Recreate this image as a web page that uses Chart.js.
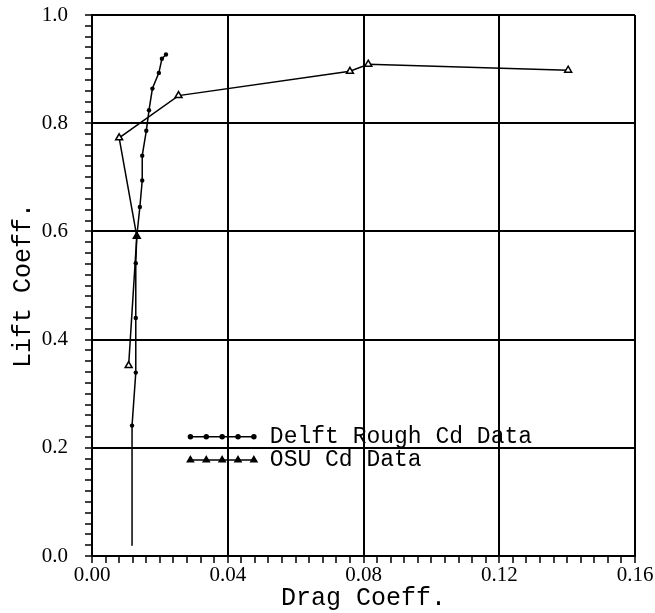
<!DOCTYPE html>
<html>
<head>
<meta charset="utf-8">
<script src="https://cdn.jsdelivr.net/npm/chart.js@4"></script>
<style>
  body { margin: 0; background: #fff; }
</style>
</head>
<body>
<canvas id="polar" width="655" height="613"></canvas>
<script>
// drag / lift data
const delftCd = [0.0119, 0.0118, 0.0129, 0.0129, 0.0129, 0.0132, 0.0141, 0.0148, 0.0148, 0.0160, 0.0168, 0.0178, 0.0197, 0.0206, 0.0218];
const delftCl = [0.020, 0.241, 0.339, 0.440, 0.541, 0.591, 0.645, 0.694, 0.740, 0.786, 0.824, 0.864, 0.893, 0.919, 0.927];
const osuCd = [0.0108, 0.0132, 0.0080, 0.0255, 0.0760, 0.0814, 0.1403];
const osuCl = [0.352, 0.591, 0.773, 0.851, 0.896, 0.909, 0.898];

const seriesNames = ['Delft Rough Cd Data', 'OSU Cd Data'];
const cdMax = 0.16, cdMajor = 0.04, cdMinor = 0.004;
const clMax = 1.0, clMajor = 0.2, clMinor = 0.02;

const toPts = (xs, ys) => xs.map((x, i) => ({ x: x, y: ys[i] }));
const isMajor = (v, minor, major) => Math.round(v / minor) % Math.round(major / minor) === 0;

// legend drawn inside the plot, placed in data coordinates
const legendMarks = [
  { pointStyle: 'circle', radius: 2 },
  { pointStyle: 'triangle', radius: 3.5 },
];
const insideLegend = {
  id: 'insideLegend',
  afterDatasetsDraw(chart) {
    const ctx = chart.ctx;
    const xs = chart.scales.x, ys = chart.scales.y;
    const x0 = xs.getPixelForValue(0.029), x1 = xs.getPixelForValue(0.0477);
    const tx = xs.getPixelForValue(0.0524);
    const rows = [0.2205, 0.1774];
    ctx.save();
    rows.forEach((cl, i) => {
      const y = ys.getPixelForValue(cl);
      ctx.strokeStyle = '#000';
      ctx.lineWidth = 1.5;
      ctx.beginPath();
      ctx.moveTo(x0, y);
      ctx.lineTo(x1, y);
      ctx.stroke();
      for (let k = 0; k < 5; k++) {
        const px = x0 + (x1 - x0) * k / 4;
        ctx.fillStyle = '#000';
        Chart.helpers.drawPoint(ctx, {
          pointStyle: legendMarks[i].pointStyle, radius: legendMarks[i].radius, rotation: 0, borderWidth: 1
        }, px, y);
        ctx.fill();
      }
      ctx.fillStyle = '#000';
      ctx.font = '23px "Liberation Mono", monospace';
      ctx.textBaseline = 'middle';
      ctx.textAlign = 'left';
      ctx.fillText(seriesNames[i], tx, y);
    });
    ctx.restore();
  }
};

new Chart(document.getElementById('polar'), {
  type: 'scatter',
  data: {
    datasets: [
      {
        label: seriesNames[0],
        data: toPts(delftCd, delftCl),
        showLine: true,
        borderColor: '#000',
        borderWidth: 1.5,
        backgroundColor: '#000',
        pointStyle: 'circle',
        // lowest reading has no marker in the original
        pointRadius: (c) => c.dataIndex === 0 ? 0 : 2.2,
        pointBorderWidth: 0,
      },
      {
        label: seriesNames[1],
        data: toPts(osuCd, osuCl),
        showLine: true,
        borderColor: '#000',
        borderWidth: 1.5,
        backgroundColor: '#fff',
        pointStyle: 'triangle',
        pointRadius: 4,
        pointBorderWidth: 1.5,
      },
    ],
  },
  options: {
    responsive: false,
    animation: false,
    layout: { padding: { top: 15, right: 20, left: 0, bottom: 0 } },
    plugins: { legend: { display: false }, tooltip: { enabled: false } },
    scales: {
      x: {
        type: 'linear',
        min: 0,
        max: cdMax,
        afterFit: (s) => { s.height = 57; },
        border: { display: true, color: '#000', width: 2 },
        grid: {
          color: (c) => isMajor(c.tick.value, cdMinor, cdMajor) ? '#000' : 'rgba(0,0,0,0)',
          lineWidth: (c) => isMajor(c.tick.value, cdMinor, cdMajor) ? 2 : 0,
          tickColor: '#000',
          tickWidth: 1.5,
          tickLength: 7,
        },
        ticks: {
          stepSize: cdMinor,
          maxTicksLimit: 100,
          autoSkip: false,
          maxRotation: 0,
          padding: 0,
          color: '#000',
          font: { family: '"Liberation Serif", serif', size: 21 },
          callback: (v) => isMajor(v, cdMinor, cdMajor) ? v.toFixed(2) : '',
        },
        title: {
          display: true,
          text: 'Drag Coeff.',
          color: '#000',
          padding: 0,
          font: { family: '"Liberation Mono", monospace', size: 25 },
        },
      },
      y: {
        type: 'linear',
        min: 0,
        max: clMax,
        afterFit: (s) => { s.width = 92; s.paddingTop = 0; s.paddingBottom = 0; },
        border: { display: true, color: '#000', width: 2 },
        grid: {
          color: (c) => isMajor(c.tick.value, clMinor, clMajor) ? '#000' : 'rgba(0,0,0,0)',
          lineWidth: (c) => isMajor(c.tick.value, clMinor, clMajor) ? 2 : 0,
          tickColor: '#000',
          tickWidth: 1.5,
          tickLength: 7,
        },
        ticks: {
          stepSize: clMinor,
          maxTicksLimit: 100,
          autoSkip: false,
          padding: 17,
          color: '#000',
          font: { family: '"Liberation Serif", serif', size: 21 },
          callback: (v) => isMajor(v, clMinor, clMajor) ? v.toFixed(1) : '',
        },
        title: {
          display: true,
          text: 'Lift Coeff.',
          color: '#000',
          padding: { top: 8, bottom: 0 },
          font: { family: '"Liberation Mono", monospace', size: 25 },
        },
      },
    },
  },
  plugins: [insideLegend],
});
</script>
</body>
</html>
